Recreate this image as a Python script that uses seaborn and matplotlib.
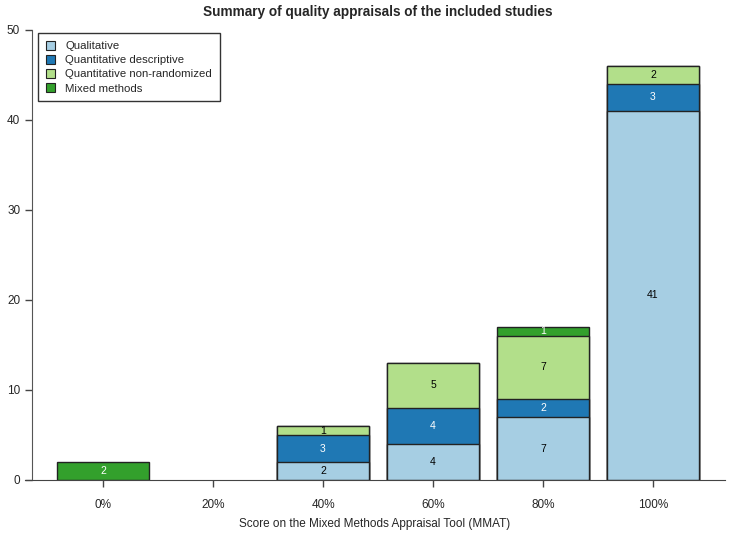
import matplotlib
matplotlib.use("Agg")
from matplotlib import pyplot as plt
import numpy as np
import pandas as pd
import seaborn as sns

# Data
scores = ['0%', '20%', '40%', '60%', '80%', '100%']
qualitative = [0, 0, 2, 4, 7, 41]
quant_descriptive = [0, 0, 3, 4, 2, 3]
quant_nonrandom = [0, 0, 1, 5, 7, 2]
mixed_methods = [2, 0, 0, 0, 1, 0]

series_names = ['Qualitative', 'Quantitative descriptive',
                'Quantitative non-randomized', 'Mixed methods']
series_values = [qualitative, quant_descriptive, quant_nonrandom, mixed_methods]
colors = ['#A6CEE3', '#1F78B4', '#B2DF8A', '#33A02C']
text_colors = ['black', 'white', 'black', 'white']

sns.set_style('white')
plt.rcParams['font.family'] = ['Liberation Sans', 'DejaVu Sans']

fig = plt.figure(figsize=(7.3, 5.39), dpi=100)
ax = fig.add_axes([25 / 730, 1 - 480 / 539, 700 / 730, 450 / 539])

# cumulative tops, draw largest first so the smaller stacks sit on top
cum = np.cumsum(np.array(series_values), axis=0).astype(float)
for i in range(len(series_names) - 1, -1, -1):
    tops = np.where(cum[i] > 0, cum[i], np.nan)
    df = pd.DataFrame({'score': scores, 'value': tops})
    sns.barplot(data=df, x='score', y='value', color=colors[i], width=0.83,
                edgecolor='#222222', linewidth=1.0, saturation=1, ax=ax,
                order=scores)

# segment labels
for i, vals in enumerate(series_values):
    bottoms = cum[i] - np.array(vals)
    for j, v in enumerate(vals):
        if v > 0:
            ax.text(j, bottoms[j] + v / 2, str(v), ha='center', va='center',
                    fontsize=7.5, color=text_colors[i])

ax.set_xlim(-78 / 110, 622 / 110)
ax.set_ylim(0, 50)
ax.set_yticks(range(0, 51, 10))
for s in ['top', 'right']:
    ax.spines[s].set_visible(False)
ax.spines['left'].set_position(('axes', 7 / 700))
ax.spines['left'].set_bounds(0, 50)
ax.spines['left'].set_color('#555555')
ax.spines['bottom'].set_color('#444444')
ax.tick_params(axis='both', which='both', length=5, width=1, color='#444444',
               labelsize=8.5, direction='out', left=True, bottom=True)
ax.tick_params(axis='x', pad=9)
ax.set_xlabel('')
ax.set_ylabel('')
fig.text(375 / 730, 1 - 524 / 539, 'Score on the Mixed Methods Appraisal Tool (MMAT)',
         fontsize=8.5, ha='center', va='center')
fig.suptitle('Summary of quality appraisals of the included studies',
             fontsize=9.8, fontweight='bold', x=378 / 730, y=1 - 12 / 539, va='center')

handles = [plt.Rectangle((0, 0), 1, 1, facecolor=c, edgecolor='#222222', linewidth=0.8)
           for c in colors]
leg = ax.legend(handles, series_names, loc='upper left',
                bbox_to_anchor=(13 / 700, 447 / 450), borderaxespad=0, fontsize=8.2,
                frameon=True, fancybox=False, handlelength=0.8, handleheight=0.8,
                handletextpad=0.9, labelspacing=0.33, borderpad=0.7)
leg.get_frame().set_edgecolor('black')
leg.get_frame().set_linewidth(1.0)

fig.savefig('out.png', dpi=100)
